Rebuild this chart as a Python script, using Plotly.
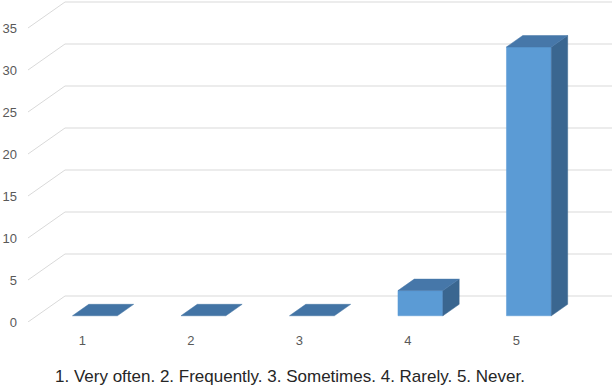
import plotly.graph_objects as go

categories = ["1", "2", "3", "4", "5"]
values = [0, 0, 0, 3, 32]
y_ticks = [0, 5, 10, 15, 20, 25, 30, 35]
x_title = "1. Very often. 2. Frequently. 3. Sometimes. 4. Rarely. 5. Never."

# oblique projection (depth offsets in data units)
PX_PER_CAT = 108.5
PX_PER_VAL = 8.4
DX = 37 / PX_PER_CAT
DY = 26 / PX_PER_VAL
D0, D1 = 0.24, 0.68       # bar depth extent
HALF_W = 0.207            # half bar width (category units)
SHIFT = 0.035

FRONT = "#5B9BD5"
TOP = "#4677A9"
SIDE = "#3A6690"
GRID = "#D9D9D9"

def P(x, y, d):
    return x + d * DX, y + d * DY

fig = go.Figure()

# back wall gridlines + side wall diagonals
x_left = 0.5
x_right = 0.5 + (612 - 28) / PX_PER_CAT
for v in y_ticks:
    bx, by = P(x_left, v, 1)
    fig.add_trace(go.Scatter(x=[x_left, bx, x_right], y=[v, by, by], mode="lines",
                             line=dict(color=GRID, width=1), hoverinfo="skip", showlegend=False))

def face(pts, color):
    xs = [p[0] for p in pts] + [pts[0][0]]
    ys = [p[1] for p in pts] + [pts[0][1]]
    fig.add_trace(go.Scatter(x=xs, y=ys, mode="lines", fill="toself", fillcolor=color,
                             line=dict(color=color, width=0.5), hoverinfo="skip", showlegend=False))

for i, v in enumerate(values):
    cx = i + 1 + SHIFT
    l, r = cx - HALF_W, cx + HALF_W
    if v > 0:
        face([P(l, 0, D0), P(r, 0, D0), P(r, v, D0), P(l, v, D0)], FRONT)
        face([P(r, 0, D0), P(r, 0, D1), P(r, v, D1), P(r, v, D0)], SIDE)
    face([P(l, v, D0), P(r, v, D0), P(r, v, D1), P(l, v, D1)], TOP if v > 0 else "#4374A5")

fig.add_annotation(text=x_title, xref="paper", yref="paper",
                   x=(290 - 28) / 584, y=-(376 - 322) / 322,
                   xanchor="center", yanchor="middle", showarrow=False,
                   font=dict(size=17, color="#262626", family="Liberation Sans"))

fig.update_layout(
    width=612, height=392,
    margin=dict(l=28, r=0, t=0, b=70),
    plot_bgcolor="white", paper_bgcolor="white",
    font=dict(family="Liberation Sans", color="#595959", size=13),
    xaxis=dict(range=[0.5, x_right], tickvals=[1, 2, 3, 4, 5], ticktext=categories,
               showgrid=False, zeroline=False, showline=False, ticks="",
               ticklabelstandoff=9),
    yaxis=dict(range=[0, 322 / PX_PER_VAL], tickvals=y_ticks, showgrid=False, zeroline=False,
               showline=False, ticks="", ticklabelstandoff=10),
)

fig.write_html("out.html")
